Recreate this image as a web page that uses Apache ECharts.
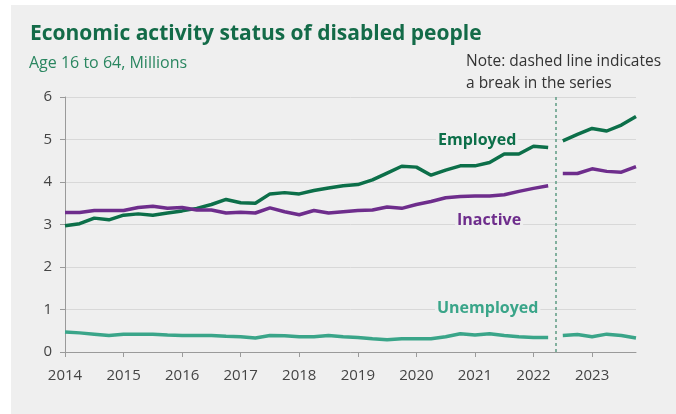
<!DOCTYPE html>
<html>
<head>
<meta charset="utf-8">
<script src="https://cdn.jsdelivr.net/npm/echarts@6/dist/echarts.min.js"></script>
<style>
  html, body { margin: 0; padding: 0; background: #fff; }
  /* grey card, white strip on top and left like the source image */
  #chart { position: absolute; left: 11px; top: 5px; width: 665px; height: 409px; }
</style>
</head>
<body>
<div id="chart"></div>
<script>
// quarter start points, the series breaks after 2022.25
const periods = [
  2014, 2014.25, 2014.5, 2014.75, 2015, 2015.25, 2015.5, 2015.75,
  2016, 2016.25, 2016.5, 2016.75, 2017, 2017.25, 2017.5, 2017.75,
  2018, 2018.25, 2018.5, 2018.75, 2019, 2019.25, 2019.5, 2019.75,
  2020, 2020.25, 2020.5, 2020.75, 2021, 2021.25, 2021.5, 2021.75,
  2022, 2022.25,
  2022.5, 2022.75, 2023, 2023.25, 2023.5, 2023.75
]
const breakIndex = 34 // first point after the break
const breakAt = 2022.375
const years = [2014, 2015, 2016, 2017, 2018, 2019, 2020, 2021, 2022, 2023]
const yTicks = [0, 1, 2, 3, 4, 5, 6]

const employed = [
  2.97, 3.02, 3.15, 3.11, 3.22, 3.25, 3.22, 3.27,
  3.32, 3.38, 3.47, 3.59, 3.51, 3.50, 3.72, 3.75,
  3.72, 3.80, 3.86, 3.91, 3.94, 4.05, 4.21, 4.37,
  4.35, 4.16, 4.28, 4.38, 4.38, 4.46, 4.66, 4.66,
  4.84, 4.81,
  4.97, 5.12, 5.26, 5.20, 5.34, 5.54
]
const inactive = [
  3.28, 3.28, 3.33, 3.33, 3.33, 3.40, 3.43, 3.38,
  3.40, 3.34, 3.34, 3.27, 3.29, 3.27, 3.39, 3.30,
  3.23, 3.33, 3.27, 3.30, 3.33, 3.34, 3.41, 3.38,
  3.47, 3.54, 3.63, 3.66, 3.67, 3.67, 3.70, 3.78,
  3.85, 3.91,
  4.20, 4.20, 4.31, 4.25, 4.23, 4.36
]
const unemployed = [
  0.47, 0.45, 0.42, 0.39, 0.42, 0.42, 0.42, 0.40,
  0.39, 0.39, 0.39, 0.37, 0.36, 0.33, 0.39, 0.38,
  0.36, 0.36, 0.39, 0.36, 0.34, 0.31, 0.29, 0.31,
  0.31, 0.31, 0.36, 0.43, 0.40, 0.43, 0.39, 0.36,
  0.34, 0.34,
  0.39, 0.41, 0.36, 0.42, 0.39, 0.33
]

const colors = {
  employed: '#0c6f49',
  inactive: '#6e2d8c',
  unemployed: '#3aa589',
  title: '#136b48',
  sub: '#2a8660'
}

// pairs with a gap entry so the line is cut at the break
function toPairs (values) {
  const out = []
  values.forEach((v, i) => {
    if (i === breakIndex) out.push([breakAt, '-'])
    out.push([periods[i], v])
  })
  return out
}

function lineSeries (name, values, color, extra) {
  return Object.assign({
    name: name,
    type: 'line',
    data: toPairs(values),
    showSymbol: false,
    connectNulls: false,
    lineStyle: { color: color, width: 3.5 },
    itemStyle: { color: color },
    z: 3
  }, extra || {})
}

const chart = echarts.init(document.getElementById('chart'))
const font = '"Open Sans", "DejaVu Sans", sans-serif'

chart.setOption({
  backgroundColor: '#efefef',
  animation: false,
  textStyle: { fontFamily: font },
  title: [{
    text: 'Economic activity status of disabled people',
    left: 19,
    top: 19,
    padding: 0,
    textStyle: { color: colors.title, fontSize: 21, fontWeight: 'bold', fontFamily: font }
  }, {
    text: 'Age 16 to 64, Millions',
    left: 18,
    top: 50,
    padding: 0,
    textStyle: { color: colors.sub, fontSize: 16, fontWeight: 'normal', fontFamily: font }
  }, {
    text: 'Note: dashed line indicates\na break in the series',
    left: 455,
    top: 46,
    padding: 0,
    textStyle: { color: '#333', fontSize: 15.5, fontWeight: 'normal', lineHeight: 22, fontFamily: font }
  }],
  grid: { left: 54, top: 92, right: 40, bottom: 62 },
  xAxis: {
    type: 'value',
    min: 2014,
    max: 2023.75,
    interval: 1,
    axisLine: { show: true, lineStyle: { color: '#9a9a9a' } },
    axisTick: { show: true, length: 5, customValues: years, lineStyle: { color: '#9a9a9a' } },
    axisLabel: {
      customValues: years,
      margin: 16,
      color: '#444',
      fontSize: 15,
      formatter: v => String(v)
    },
    splitLine: { show: false }
  },
  yAxis: {
    type: 'value',
    min: yTicks[0],
    max: yTicks[yTicks.length - 1],
    interval: 1,
    axisLine: { show: true, lineStyle: { color: '#9a9a9a' } },
    axisTick: { show: true, length: 5, lineStyle: { color: '#9a9a9a' } },
    axisLabel: { margin: 13, color: '#444', fontSize: 15 },
    splitLine: { lineStyle: { color: '#d8d8d8', width: 1 } }
  },
  series: [
    lineSeries('Employed', employed, colors.employed, {
      markLine: {
        silent: true,
        symbol: 'none',
        label: { show: false },
        lineStyle: { color: '#5f9c84', type: [3, 3], width: 1.5 },
        data: [{ xAxis: breakAt }]
      }
    }),
    lineSeries('Inactive', inactive, colors.inactive),
    lineSeries('Unemployed', unemployed, colors.unemployed)
  ],
  // series names written next to the lines, masking the grid line behind them
  graphic: [{
    type: 'text',
    left: 425,
    top: 127,
    z: 10,
    style: { text: 'Employed', fill: colors.employed, font: 'bold 16px ' + font, backgroundColor: '#efefef', padding: [0, 2] }
  }, {
    type: 'text',
    left: 444,
    top: 207,
    z: 10,
    style: { text: 'Inactive', fill: colors.inactive, font: 'bold 16px ' + font, backgroundColor: '#efefef', padding: [0, 2] }
  }, {
    type: 'text',
    left: 424,
    top: 295,
    z: 10,
    style: { text: 'Unemployed', fill: colors.unemployed, font: 'bold 16px ' + font, backgroundColor: '#efefef', padding: [0, 2] }
  }]
})
</script>
</body>
</html>
